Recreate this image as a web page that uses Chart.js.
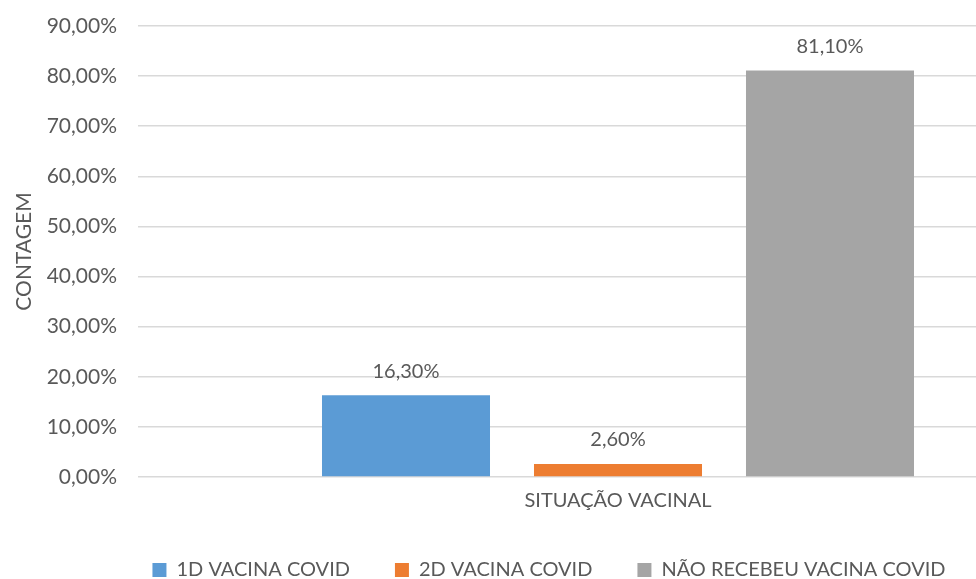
<!DOCTYPE html>
<html lang="pt">
<head>
<meta charset="utf-8">
<title>Situação vacinal</title>
<script src="https://cdn.jsdelivr.net/npm/chart.js@4.4.1/dist/chart.umd.min.js"></script>
<style>
  html, body { margin: 0; padding: 0; background: #fff; overflow: hidden; }
  #wrap { width: 1098px; height: 579px; position: relative; }
</style>
</head>
<body>
<div id="wrap"><canvas id="diagram"></canvas></div>
<script>
"use strict";

const categories = ["SITUAÇÃO VACINAL"];
const seriesNames = ["1D VACINA COVID", "2D VACINA COVID", "NÃO RECEBEU VACINA COVID"];
const seriesValues = [16.3, 2.6, 81.1];
const seriesColors = ["#5B9BD5", "#ED7D31", "#A5A5A5"];
const yTicks = [0, 10, 20, 30, 40, 50, 60, 70, 80, 90];

const textColor = "#595959";
const fontFamily = "Lato, 'Open Sans', sans-serif";

const formatPct = function (v) {
  return v.toFixed(2).replace(".", ",") + "%";
};

// rótulos de dados acima das barras
const barLabels = {
  id: "barLabels",
  afterDatasetsDraw(chart) {
    const ctx = chart.ctx;
    ctx.save();
    ctx.font = "20px " + fontFamily;
    ctx.fillStyle = textColor;
    ctx.textAlign = "center";
    ctx.textBaseline = "middle";
    chart.data.datasets.forEach((ds, i) => {
      chart.getDatasetMeta(i).data.forEach((bar, j) => {
        ctx.fillText(formatPct(ds.data[j]), bar.x, bar.y - 24);
      });
    });
    ctx.restore();
  },
};

const ctx = document.getElementById("diagram").getContext("2d");
new Chart(ctx, {
  type: "bar",
  data: {
    labels: categories,
    datasets: seriesNames.map((name, i) => ({
      label: name,
      data: [seriesValues[i]],
      backgroundColor: seriesColors[i],
      borderWidth: 0,
      categoryPercentage: 0.6625,
      barPercentage: 0.7925,
    })),
  },
  options: {
    responsive: true,
    maintainAspectRatio: false,
    animation: false,
    layout: {
      padding: { top: 26, left: 0, right: 0, bottom: -11 },
    },
    plugins: {
      legend: {
        position: "bottom",
        labels: {
          boxWidth: 14,
          boxHeight: 14,
          padding: 45,
          color: textColor,
          font: { family: fontFamily, size: 20 },
        },
      },
      tooltip: { enabled: false },
    },
    scales: {
      x: {
        grid: { display: false },
        border: { display: false },
        ticks: {
          padding: 4,
          color: textColor,
          font: { family: fontFamily, size: 20 },
        },
        afterFit(scale) {
          scale.height = 38;
        },
      },
      y: {
        min: 0,
        max: 90,
        afterBuildTicks(scale) {
          scale.ticks = yTicks.map((v) => ({ value: v }));
        },
        grid: { color: "#D9D9D9", lineWidth: 1.5, drawTicks: false },
        border: { display: false },
        ticks: {
          padding: 21,
          color: textColor,
          font: { family: fontFamily, size: 21 },
          callback: (v) => formatPct(v),
        },
        title: {
          display: true,
          text: "CONTAGEM",
          color: textColor,
          font: { family: fontFamily, size: 21 },
          padding: { top: 12, bottom: 0 },
        },
        afterFit(scale) {
          scale.width = 138;
          scale.paddingTop = 0;
          scale.paddingBottom = 0;
        },
      },
    },
  },
  plugins: [barLabels],
});
</script>
</body>
</html>
